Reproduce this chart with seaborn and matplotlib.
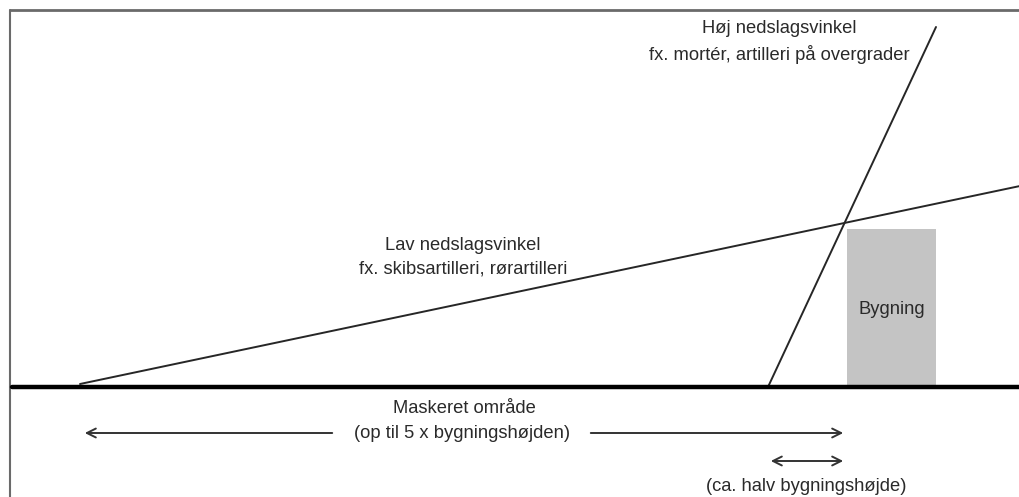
import matplotlib
matplotlib.use("Agg")
import matplotlib.pyplot as plt
import seaborn as sns
import pandas as pd

# diagram geometry (pixel-like units, y grows downward)
ground_x = [12, 1020]
ground_y = [387, 387]
low_angle_x = [80, 1020]
low_angle_y = [384, 186]
high_angle_x = [768, 936]
high_angle_y = [387, 27]
building_x = [847, 936]
building_y = [229, 386]
masked_span = [82, 846]
half_span = [768, 846]

high_lines = ["Høj nedslagsvinkel", "fx. mortér, artilleri på overgrader"]
low_lines = ["Lav nedslagsvinkel", "fx. skibsartilleri, rørartilleri"]
building_label = "Bygning"
masked_label = "Maskeret område"
masked_sub = "(op til 5 x bygningshøjden)"
half_label = "(ca. halv bygningshøjde)"

sns.set_theme(style="white")
plt.rcParams["font.family"] = ["Liberation Sans", "DejaVu Sans"]

fig = plt.figure(figsize=(10.2, 4.97), dpi=100)
ax = fig.add_axes([0, 0, 1, 1])

FS = 13.2
TXT = "#2a2a2a"

# frame (top and left edge)
ax.plot([10, 1020], [9.5, 9.5], color="#6a6a6a", lw=2)
ax.plot([10, 10], [9.5, 497], color="#6a6a6a", lw=1.5)

# building
ax.fill_between(building_x, building_y[0], building_y[1], color="#c4c4c4", lw=0)
ax.text(sum(building_x) / 2, 309, building_label, ha="center", va="center", fontsize=FS, color=TXT)

# trajectories
lines = pd.DataFrame({
    "x": low_angle_x + high_angle_x,
    "y": low_angle_y + high_angle_y,
    "kind": ["low", "low", "high", "high"],
})
sns.lineplot(data=lines, x="x", y="y", units="kind", estimator=None, sort=False,
             color="#262626", lw=1.4, ax=ax, legend=False)

# ground
sns.lineplot(x=ground_x, y=ground_y, color="black", lw=3.2, ax=ax)

ax.set_xlim(0, 1020)
ax.set_ylim(497, 0)
ax.axis("off")

for txt, y in zip(high_lines, [33, 60]):
    ax.text(779, y, txt, ha="center", va="baseline", fontsize=FS, color=TXT)
for txt, y in zip(low_lines, [250, 274]):
    ax.text(463, y, txt, ha="center", va="baseline", fontsize=FS, color=TXT)

# masked area arrow, split around the label
head = dict(arrowstyle="->", color="#333333", lw=1.4, mutation_scale=16)
ax.annotate("", xy=(masked_span[0], 433), xytext=(335, 433), arrowprops=head)
ax.annotate("", xy=(masked_span[1], 433), xytext=(588, 433), arrowprops=head)
ax.text(464, 413, masked_label, ha="center", va="baseline", fontsize=FS, color=TXT)
ax.text(462, 438, masked_sub, ha="center", va="baseline", fontsize=FS, color=TXT)

ax.annotate("", xy=(half_span[0], 461), xytext=(half_span[1], 461),
            arrowprops=dict(arrowstyle="<->", color="#333333", lw=1.4, mutation_scale=16))
ax.text(806, 491, half_label, ha="center", va="baseline", fontsize=FS, color=TXT)

fig.savefig("out.png", dpi=100)
